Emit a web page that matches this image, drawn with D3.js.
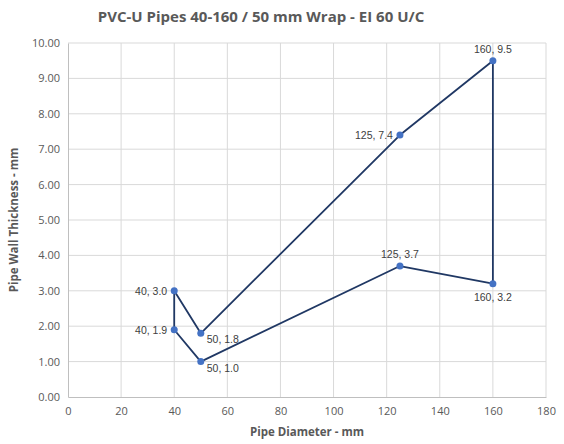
<!DOCTYPE html>
<html>
<head>
<meta charset="utf-8">
<script src="https://cdn.jsdelivr.net/npm/d3@7"></script>
<style>
  body { margin: 0; background: #fff; }
  svg { display: block; }
</style>
</head>
<body>
<div id="chart-area"></div>
<script>
// Data, in drawing order (closed outline)
var diameters = [40, 40, 50, 125, 160, 160, 125, 50, 40];
var thickness = [3.0, 1.9, 1.0, 3.7, 3.2, 9.5, 7.4, 1.8, 3.0];
// where each point label sits
var labelPos = ["left", "left", "below-right", "above", "below", "above", "left", "below-right"];
var xTicks = [0, 20, 40, 60, 80, 100, 120, 140, 160, 180];
var yTicks = [0, 1, 2, 3, 4, 5, 6, 7, 8, 9, 10];

var margin = { left: 68, right: 18, top: 43, bottom: 47 },
    width = 564 - margin.left - margin.right,
    height = 444 - margin.top - margin.bottom;

var svg = d3.select("#chart-area").append("svg")
    .attr("width", 564)
    .attr("height", 444);

var g = svg.append("g")
    .attr("transform", "translate(" + margin.left + "," + margin.top + ")");

var x = d3.scaleLinear().domain([0, 180]).range([0, width]);
var y = d3.scaleLinear().domain([0, 10]).range([height, 0]);

// Gridlines
g.append("g").selectAll("line").data(yTicks.slice(1)).enter().append("line")
    .attr("x1", 0).attr("x2", width)
    .attr("y1", function(d){ return y(d); }).attr("y2", function(d){ return y(d); })
    .attr("stroke", "#d9d9d9").attr("stroke-width", 1);
g.append("g").selectAll("line").data(xTicks.slice(1)).enter().append("line")
    .attr("y1", 0).attr("y2", height)
    .attr("x1", function(d){ return x(d); }).attr("x2", function(d){ return x(d); })
    .attr("stroke", "#d9d9d9").attr("stroke-width", 1);

// Axes
var xAxis = g.append("g")
    .attr("transform", "translate(0," + height + ")")
    .call(d3.axisBottom(x).tickValues(xTicks).tickSize(0).tickPadding(10));
var yAxis = g.append("g")
    .call(d3.axisLeft(y).tickValues(yTicks).tickSize(0).tickPadding(8).tickFormat(d3.format(".2f")));

[xAxis, yAxis].forEach(function(a){
    a.select(".domain").attr("stroke", "#bfbfbf");
    a.selectAll("text")
        .attr("fill", "#595959")
        .style("font-family", "'Open Sans', sans-serif")
        .style("font-size", "11px");
});

// Title
svg.append("text")
    .attr("x", 261).attr("y", 22)
    .attr("text-anchor", "middle")
    .attr("fill", "#595959")
    .style("font-family", "'Open Sans', sans-serif")
    .style("font-size", "15px")
    .style("font-weight", "bold")
    .text("PVC-U Pipes 40-160 / 50 mm Wrap - EI 60 U/C");

// Axis titles
svg.append("text")
    .attr("x", 307).attr("y", 436)
    .attr("text-anchor", "middle")
    .attr("fill", "#595959")
    .style("font-family", "'Open Sans', sans-serif")
    .style("font-size", "11.5px")
    .style("font-weight", "bold")
    .text("Pipe Diameter - mm");
svg.append("text")
    .attr("transform", "rotate(-90)")
    .attr("x", -(margin.top + height / 2)).attr("y", 18)
    .attr("text-anchor", "middle")
    .attr("fill", "#595959")
    .style("font-family", "'Open Sans', sans-serif")
    .style("font-size", "11.5px")
    .style("font-weight", "bold")
    .text("Pipe Wall Thickness - mm");

// Line
var pts = diameters.map(function(d, i){ return { x: d, y: thickness[i] }; });
var line = d3.line()
    .x(function(d){ return x(d.x); })
    .y(function(d){ return y(d.y); });
g.append("path")
    .attr("d", line(pts))
    .attr("fill", "none")
    .attr("stroke", "#203864")
    .attr("stroke-width", 1.8)
    .attr("stroke-linejoin", "round");

// Markers and labels (skip the repeated closing point)
var uniq = pts.slice(0, pts.length - 1);
g.selectAll("circle").data(uniq).enter().append("circle")
    .attr("cx", function(d){ return x(d.x); })
    .attr("cy", function(d){ return y(d.y); })
    .attr("r", 3.5)
    .attr("fill", "#4472c4");

g.selectAll(".lbl").data(uniq).enter().append("text")
    .attr("class", "lbl")
    .attr("x", function(d, i){
        var p = labelPos[i];
        if (p == "left") return x(d.x) - 7;
        if (p == "below-right") return x(d.x) + 6;
        return x(d.x);
    })
    .attr("y", function(d, i){
        var p = labelPos[i];
        if (p == "above") return y(d.y) - 8;
        if (p == "below") return y(d.y) + 17;
        if (p == "below-right") return y(d.y) + 10;
        return y(d.y) + 4;
    })
    .attr("text-anchor", function(d, i){
        var p = labelPos[i];
        if (p == "left") return "end";
        if (p == "below-right") return "start";
        return "middle";
    })
    .attr("fill", "#404040")
    .style("font-family", "Arial, 'Liberation Sans', sans-serif")
    .style("font-size", "10.5px")
    .text(function(d){ return d.x + ", " + d.y.toFixed(1); });
</script>
</body>
</html>
